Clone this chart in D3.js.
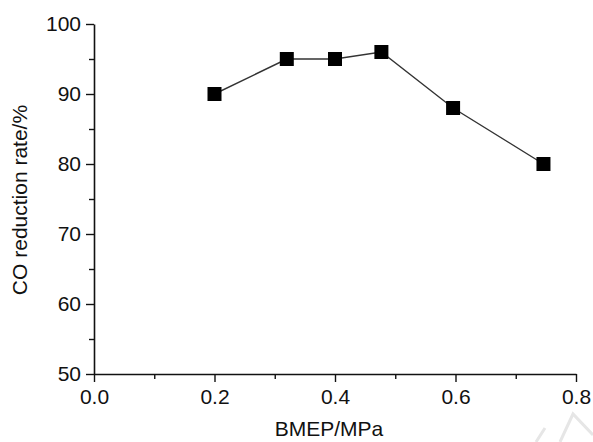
<!DOCTYPE html>
<html>
<head>
<meta charset="utf-8">
<script src="https://cdn.jsdelivr.net/npm/d3@7/dist/d3.min.js"></script>
<style>
  html, body { margin: 0; padding: 0; background: #fff; }
  text { font-family: "Liberation Sans", Arial, sans-serif; fill: #111; }
</style>
</head>
<body>
<div id="chart"></div>
<script>
// data
const bmep = [0.2, 0.32, 0.4, 0.477, 0.596, 0.746];
const coReduction = [90, 95, 95, 96, 88, 80];
const xTicks = [0.0, 0.2, 0.4, 0.6, 0.8];
const yTicks = [50, 60, 70, 80, 90, 100];

const W = 593, H = 442;
const margin = {top: 24, right: 17, bottom: 68, left: 94};
const width = W - margin.left - margin.right;
const height = H - margin.top - margin.bottom;

const svg = d3.select('#chart')
  .append('svg')
  .attr('width', W)
  .attr('height', H);

const g = svg.append('g')
  .attr('transform', `translate(${margin.left}, ${margin.top})`);

const x = d3.scaleLinear().domain([0, 0.8]).range([0, width]);
const y = d3.scaleLinear().domain([50, 100]).range([height, 0]);

// watermark fragments (faint)
svg.append('path')
  .attr('d', 'M560,442 L573,414 L593,435 M536,442 L545,428')
  .attr('fill', 'none')
  .attr('stroke', '#e6e6e6')
  .attr('stroke-width', 3);

// minor ticks
g.append('g')
  .attr('transform', `translate(0, ${height})`)
  .call(d3.axisBottom(x).tickValues([0.1, 0.3, 0.5, 0.7]).tickSize(5).tickFormat(''))
  .call(a => a.select('.domain').remove());
g.append('g')
  .call(d3.axisLeft(y).tickValues([55, 65, 75, 85, 95]).tickSize(5).tickFormat(''))
  .call(a => a.select('.domain').remove());

// major axes
const xAxis = g.append('g')
  .attr('transform', `translate(0, ${height})`)
  .call(d3.axisBottom(x).tickValues(xTicks).tickSize(8).tickSizeOuter(0).tickPadding(7).tickFormat(d3.format('.1f')));
const yAxis = g.append('g')
  .call(d3.axisLeft(y).tickValues(yTicks).tickSize(8).tickSizeOuter(0).tickPadding(5).tickFormat(d3.format('d')));

[xAxis, yAxis].forEach(a => {
  a.selectAll('text').style('font-size', '21px');
  a.select('.domain').attr('stroke', '#111').attr('stroke-width', 1.6);
});
g.selectAll('.tick line').attr('stroke', '#111').attr('stroke-width', 1.4);

// axis titles
g.append('text')
  .attr('x', width / 2 - 6)
  .attr('y', height + 62)
  .attr('text-anchor', 'middle')
  .style('font-size', '21px')
  .text('BMEP/MPa');

g.append('text')
  .attr('transform', `translate(${-margin.left + 27}, ${height / 2 + 1}) rotate(-90)`)
  .attr('text-anchor', 'middle')
  .style('font-size', '21px')
  .text('CO reduction rate/%');

// line + markers
const pts = bmep.map((v, i) => [v, coReduction[i]]);
g.append('path')
  .datum(pts)
  .attr('fill', 'none')
  .attr('stroke', '#333')
  .attr('stroke-width', 1.4)
  .attr('d', d3.line().x(d => x(d[0])).y(d => y(d[1])));

const s = 14;
g.selectAll('rect.pt')
  .data(pts)
  .join('rect')
  .attr('class', 'pt')
  .attr('x', d => x(d[0]) - s / 2)
  .attr('y', d => y(d[1]) - s / 2)
  .attr('width', s)
  .attr('height', s)
  .attr('fill', '#000');
</script>
</body>
</html>
